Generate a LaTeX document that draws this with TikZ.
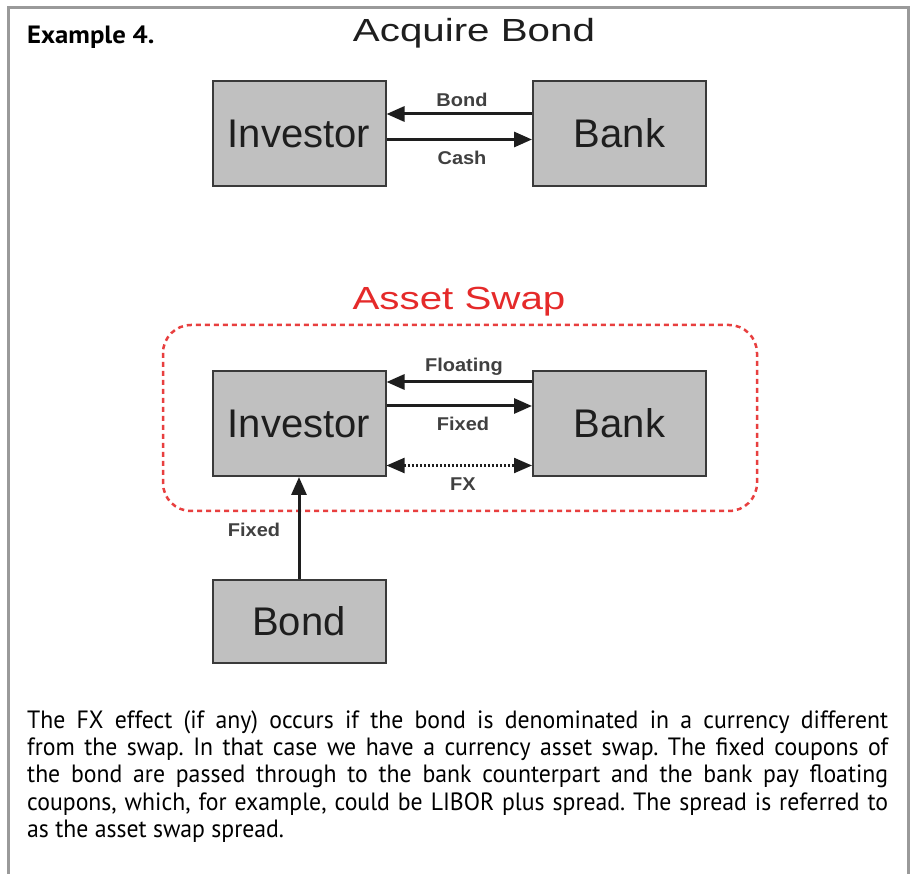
\documentclass[tikz,border=0pt]{standalone}
\usepackage{fontspec}
\setmainfont{Liberation Sans}
\newfontfamily\bodyfont[FakeStretch=0.95]{PT Sans}
\newfontfamily\exfont[FakeStretch=1.07]{PT Sans}
\newfontfamily\headfont[FakeStretch=1.26]{Liberation Sans}
\newfontfamily\lblfont[FakeStretch=1.08]{Liberation Sans}
\usetikzlibrary{arrows.meta}
\definecolor{boxgray}{HTML}{C0C0C0}
\definecolor{boxline}{HTML}{3A3A3A}
\definecolor{frame}{HTML}{9A9A9A}
\definecolor{swapred}{HTML}{E52A2A}
\definecolor{ink}{HTML}{1E1E1E}
\tikzset{
  party/.style={draw=boxline, line width=2pt, fill=boxgray, minimum width=173pt, minimum height=105pt, inner sep=0pt, text=ink, font=\fontsize{40}{44}\selectfont},
  flow/.style={draw=ink, line width=3pt, -{Triangle[length=18pt,width=15pt]}},
  fxflow/.style={draw=ink, line width=2.2pt, dash pattern=on 2pt off 2pt, {Triangle[length=18pt,width=15pt]}-{Triangle[length=18pt,width=15pt]}},
  lbl/.style={font=\lblfont\fontsize{18.5}{20}\selectfont\bfseries, text=ink!85, inner sep=0pt},
  heading/.style={font=\headfont\fontsize{32}{36}\selectfont, inner sep=0pt, anchor=base}
}
\begin{document}
\begin{tikzpicture}[x=1pt, y=-1pt]
\useasboundingbox (0,0) rectangle (911,874);
\fill[white] (0,0) rectangle (911,874);
% frame
\draw[frame, line width=3pt] (8,874) -- (8,8) -- (908,8) -- (908,874);
\node[anchor=base west, inner sep=0pt, font=\exfont\fontsize{25}{28}\selectfont\bfseries] (ex) at (27,44) {Example 4.};

% Acquire bond
\node[heading, text=ink] (t1) at (474,42) {Acquire Bond};
\node[party] (I1) at (299,133.5) {Investor};
\node[party] (B1) at (619.5,133.5) {Bank};
\draw[flow] ([yshift=19.5pt]B1.west) -- ([yshift=19.5pt]I1.east);
\draw[flow] ([yshift=-6pt]I1.east) -- ([yshift=-6pt]B1.west);
\node[lbl] (l1) at (462,100) {Bond};
\node[lbl] (l2) at (462,158) {Cash};

% Asset swap
\node[heading, text=swapred] (t2) at (459,310) {Asset Swap};
\node[party] (I2) at (299,423.5) {Investor};
\node[party] (B2) at (619.5,423.5) {Bank};
\draw[swapred!90, line width=2.5pt, dash pattern=on 5pt off 4pt, rounded corners=28pt] (163,325) rectangle (757,511);
\draw[flow] ([yshift=41.5pt]B2.west) -- ([yshift=41.5pt]I2.east);
\draw[flow] ([yshift=17.5pt]I2.east) -- ([yshift=17.5pt]B2.west);
\draw[fxflow] ([yshift=-42pt]I2.east) -- ([yshift=-42pt]B2.west);
\node[lbl] (l3) at (464,367) {Floating};
\node[lbl] (l4) at (463,424) {Fixed};
\node[lbl] (l5) at (463,484) {FX};

\node[party, minimum height=83pt] (BD) at (299,621.5) {Bond};
\draw[flow] (BD.north) -- (I2.south);
\node[lbl] (l6) at (254,530) {Fixed};

% paragraph
\node[anchor=north west, inner sep=0pt, text width=861pt, align=justify, font=\bodyfont\fontsize{25}{27.4}\selectfont\frenchspacing] (txt) at (27,710) {The FX effect (if any) occurs if the bond is denominated in a currency different\linebreak from the swap. In that case we have a currency asset swap. The fixed coupons of\linebreak the bond are passed through to the bank counterpart and the bank pay floating\linebreak coupons, which, for example, could be LIBOR plus spread. The spread is referred to\linebreak as the asset swap spread.};
\end{tikzpicture}
\end{document}
